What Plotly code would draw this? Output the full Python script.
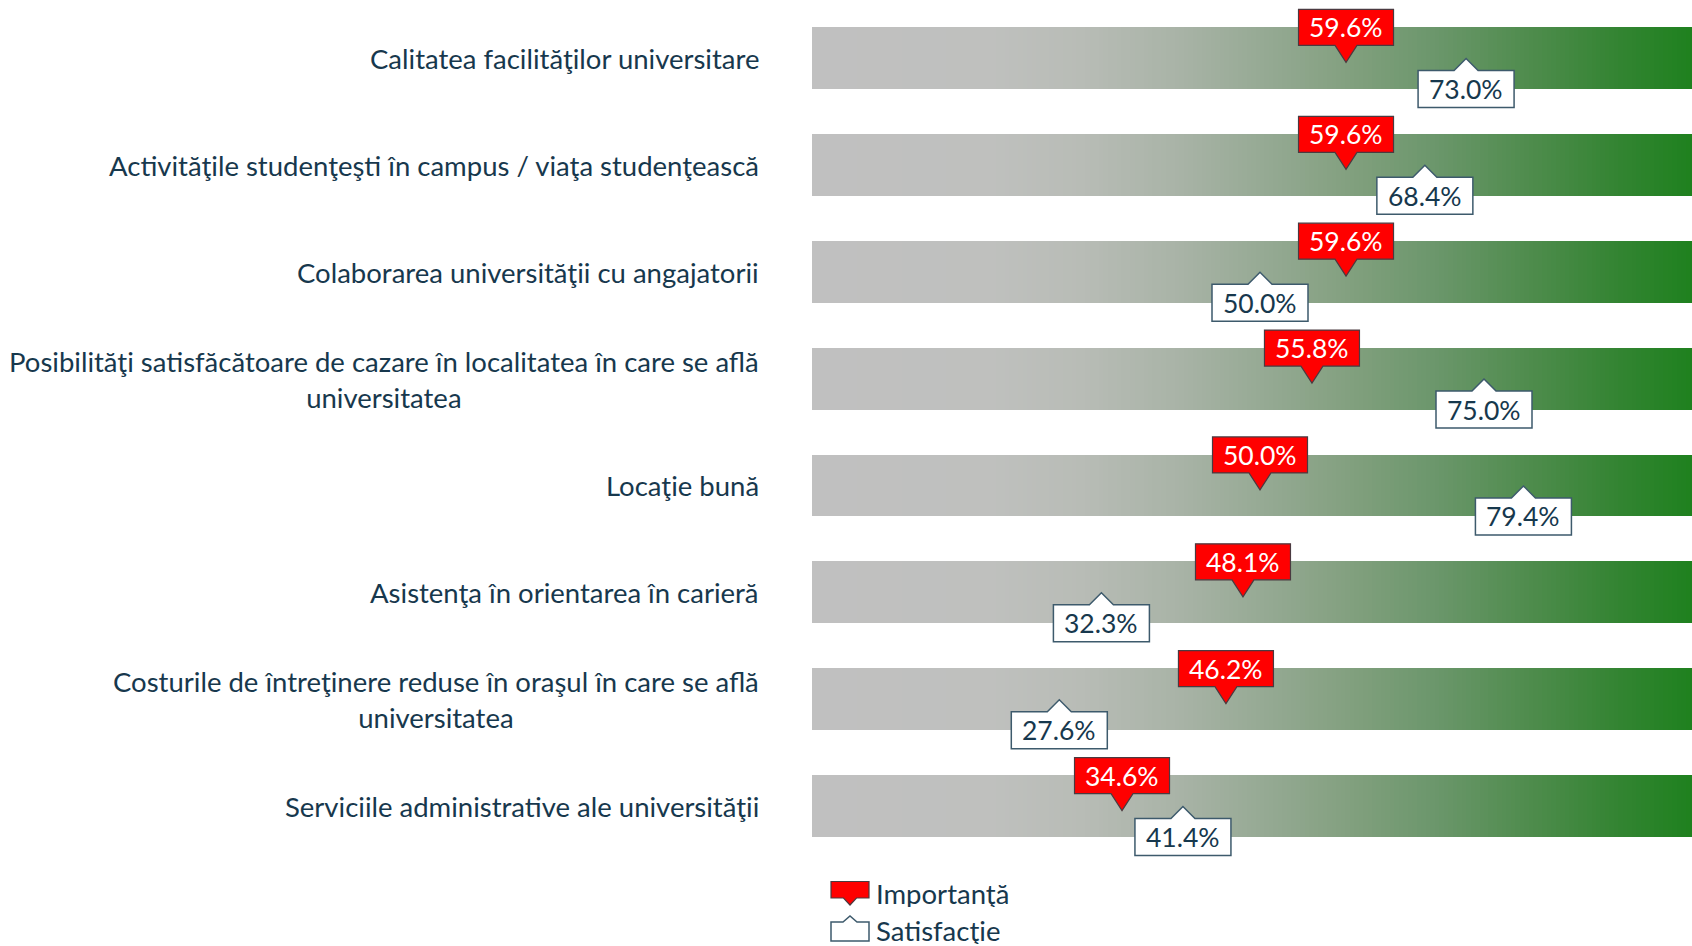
import numpy as np
import plotly.graph_objects as go

categories = [
    "Calitatea facilităţilor universitare",
    "Activităţile studenţeşti în campus / viaţa studenţească",
    "Colaborarea universităţii cu angajatorii",
    "Posibilităţi satisfăcătoare de cazare în localitatea în care se află<br>universitatea",
    "Locaţie bună",
    "Asistenţa în orientarea în carieră",
    "Costurile de întreţinere reduse în oraşul în care se află<br>universitatea",
    "Serviciile administrative ale universităţii",
]
importanta = [59.6, 59.6, 59.6, 55.8, 50.0, 48.1, 46.2, 34.6]
satisfactie = [73.0, 68.4, 50.0, 75.0, 79.4, 32.3, 27.6, 41.4]
legend_names = ["Importanţă", "Satisfacţie"]

W, H = 1692, 946
ML, MR, MT, MB = 812, 0, 5, 86
PX_PER_PCT = 8.96
plot_w = W - ML - MR
plot_h = H - MT - MB
xmax = plot_w / PX_PER_PCT
n = len(categories)
rows = list(range(n))

TXT = "#17384d"
FONT = "Lato"
LABEL_SIZE = 27.5
VALUE_SIZE = 26.5

# gradient scale bars (0-100%)
grad_x = np.linspace(0.25, 99.75, 200)
grad_z = [list(grad_x) for _ in rows]
colorscale = [
    [0.0, "#c0c0c0"], [0.2, "#bfc0be"], [0.3, "#b8bcb6"], [0.4, "#aab4a8"],
    [0.5, "#97aa95"], [0.6, "#82a07f"], [0.7, "#6a966a"], [0.8, "#4f8c4d"],
    [0.9, "#338432"], [1.0, "#1a801a"],
]

fig = go.Figure()
fig.add_trace(go.Heatmap(
    x=grad_x, y=rows, z=grad_z, colorscale=colorscale, zmin=0, zmax=100,
    showscale=False, ygap=45, xgap=0, hoverinfo="skip",
))

shapes = []
annotations = []

red_path = "M -47.5,13 L -11,13 L 0,-4 L 11,13 L 47.5,13 L 47.5,49 L -47.5,49 Z"
white_path = "M -48,-12 L -12,-12 L 0,0 L 12,-12 L 48,-12 L 48,-49 L -48,-49 Z"

for i, (cat, vi, vs) in enumerate(zip(categories, importanta, satisfactie)):
    annotations.append(dict(
        xref="paper", yref="y", x=0, y=i, xshift=-51, xanchor="right", yanchor="middle",
        text=cat, showarrow=False, align="center",
        font=dict(family=FONT, size=LABEL_SIZE, color=TXT),
    ))
    shapes.append(dict(
        type="path", xref="x", yref="y", xsizemode="pixel", ysizemode="pixel",
        xanchor=vi, yanchor=i, path=red_path,
        fillcolor="#ff0000", line=dict(color="#4a3a40", width=1.2), layer="above",
    ))
    annotations.append(dict(
        xref="x", yref="y", x=vi, y=i, yshift=31, xanchor="center", yanchor="middle",
        text=f"{vi:.1f}%", showarrow=False,
        font=dict(family=FONT, size=VALUE_SIZE, color="#ffffff"),
    ))
    shapes.append(dict(
        type="path", xref="x", yref="y", xsizemode="pixel", ysizemode="pixel",
        xanchor=vs, yanchor=i, path=white_path,
        fillcolor="#ffffff", line=dict(color="#3d5a6c", width=1.5), layer="above",
    ))
    annotations.append(dict(
        xref="x", yref="y", x=vs, y=i, yshift=-30.5, xanchor="center", yanchor="middle",
        text=f"{vs:.1f}%", showarrow=False,
        font=dict(family=FONT, size=VALUE_SIZE, color=TXT),
    ))

# legend
def px2paper_x(px):
    return (px - ML) / plot_w

def px2paper_y(py):
    return (H - MB - py) / plot_h

shapes.append(dict(
    type="path", xref="paper", yref="paper", xsizemode="pixel", ysizemode="pixel",
    xanchor=px2paper_x(850), yanchor=px2paper_y(905),
    path="M -19,7 L -6.5,7 L 0,0 L 6.5,7 L 19,7 L 19,23.5 L -19,23.5 Z",
    fillcolor="#ff0000", line=dict(color="#4a3a40", width=1.2),
))
shapes.append(dict(
    type="path", xref="paper", yref="paper", xsizemode="pixel", ysizemode="pixel",
    xanchor=px2paper_x(850), yanchor=px2paper_y(916),
    path="M -19,-6 L -7,-6 L 0,0 L 7,-6 L 19,-6 L 19,-25 L -19,-25 Z",
    fillcolor="#ffffff", line=dict(color="#3d5a6c", width=1.5),
))
for name, py in zip(legend_names, [893, 930]):
    annotations.append(dict(
        xref="paper", yref="paper", x=px2paper_x(874), y=px2paper_y(py),
        xanchor="left", yanchor="middle", text=name, showarrow=False,
        height=28, valign="middle",
        font=dict(family=FONT, size=LABEL_SIZE, color=TXT),
    ))

fig.update_layout(
    width=W, height=H,
    margin=dict(l=ML, r=MR, t=MT, b=MB, pad=0),
    paper_bgcolor="white", plot_bgcolor="white",
    xaxis=dict(range=[0, xmax], visible=False, fixedrange=True),
    yaxis=dict(range=[n - 0.5, -0.5], visible=False, fixedrange=True),
    shapes=shapes, annotations=annotations,
    showlegend=False, hovermode=False,
)

fig.write_html(
    "out.html",
    config={"displayModeBar": False},
    post_script="document.body.style.margin='0';document.body.style.overflow='hidden';",
)
